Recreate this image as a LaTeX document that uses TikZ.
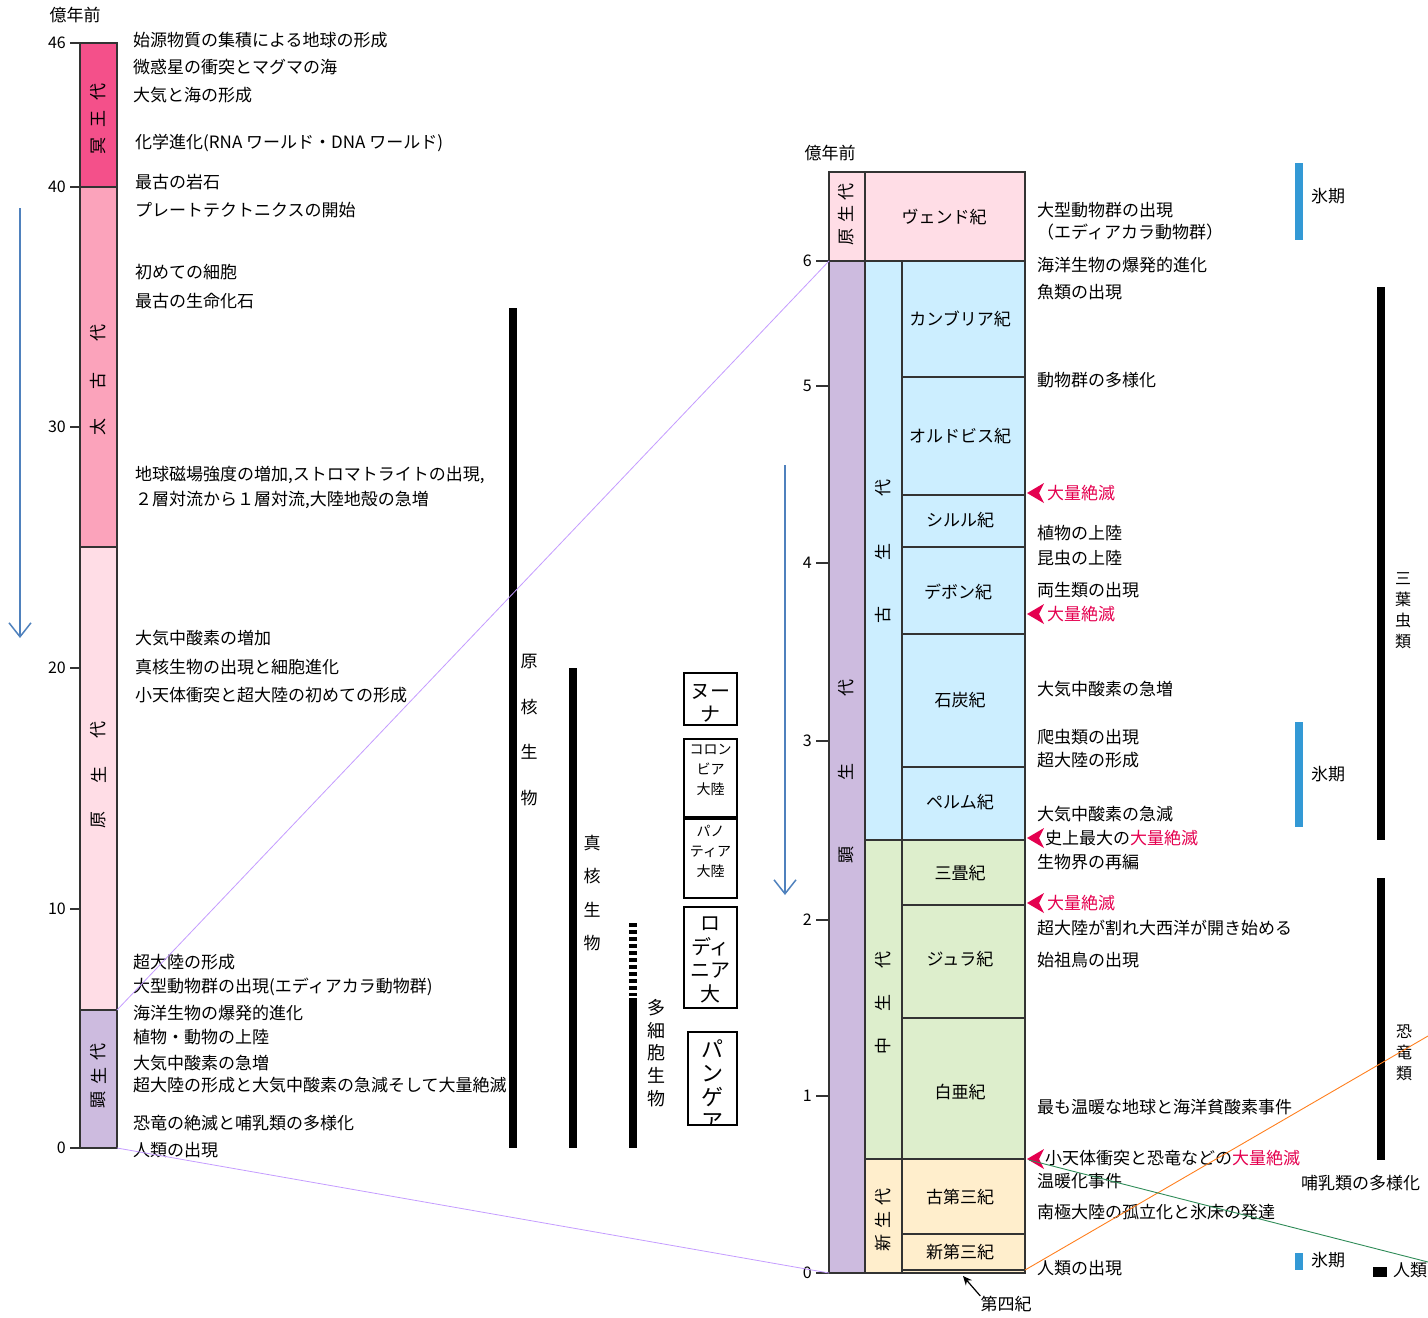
\documentclass[tikz,border=0pt]{standalone}
\usepackage{fontspec}
\setmainfont{Noto Sans CJK JP}
\usetikzlibrary{arrows.meta}
\definecolor{framec}{HTML}{333333}
\definecolor{hadc}{HTML}{F4508A}
\definecolor{arcc}{HTML}{FBA3BB}
\definecolor{proc}{HTML}{FFDDE6}
\definecolor{phac}{HTML}{CDBBDF}
\definecolor{palc}{HTML}{CCEEFF}
\definecolor{mesc}{HTML}{DDEECC}
\definecolor{cenc}{HTML}{FFEECC}
\definecolor{purp}{HTML}{C49CFF}
\definecolor{orgc}{HTML}{FF7F1E}
\definecolor{grnc}{HTML}{2E8B57}
\definecolor{icec}{HTML}{3399D5}
\definecolor{extc}{HTML}{E4004F}
\definecolor{arrc}{HTML}{4F81BD}
\begin{document}
\begin{tikzpicture}[x=1pt,y=-1pt,
  every node/.style={inner sep=0pt},
  ev/.style={anchor=west,font=\fontsize{17}{20}\selectfont},
  num/.style={anchor=east,font=\fontsize{16}{18}\selectfont},
  rch/.style={rotate=90,font=\fontsize{17}{20}\selectfont},
  pername/.style={font=\fontsize{17}{20}\selectfont},
  frame/.style={draw=framec,line width=1.2pt},
  lifebar/.style={line width=8pt,draw=black},
  iceb/.style={line width=8pt,draw=icec},
  link/.style={draw=purp,line width=0.8pt},
  downarrow/.style={draw=arrc,line width=1.5pt,-{Straight Barb[length=14pt,width=22pt,line width=1.5pt]}},
  cbox/.style={draw=black,line width=1.3pt},
  extn/.style={text=extc}
]
\useasboundingbox (0,0) rectangle (1428,1318);

% ================= LEFT COLUMN =================
\node[font=\fontsize{17}{20}\selectfont] (hdrL) at (75,15) {億年前};
\fill[hadc] (80,43) rectangle (117,187);
\fill[arcc] (80,187) rectangle (117,547);
\fill[proc] (80,547) rectangle (117,1010);
\fill[phac] (80,1010) rectangle (117,1148);
\draw[frame] (80,43) rectangle (117,1148);
\draw[frame] (80,187) -- (117,187);
\draw[frame] (80,547) -- (117,547);
\draw[frame] (80,1010) -- (117,1010);
\foreach \yy/\lab in {43/46,187/40,427/30,668/20,909/10,1148/0}{
  \draw[frame] (70,\yy) -- (80,\yy);
  \node[num] (tl\lab) at (66,\yy) {\lab};
}
% eon labels
\node[rch] (e1a) at (98.5,146) {冥};
\node[rch] (e1b) at (98.5,119) {王};
\node[rch] (e1c) at (98.5,92) {代};
\node[rch] (e2a) at (98.5,427) {太};
\node[rch] (e2b) at (98.5,381) {古};
\node[rch] (e2c) at (98.5,333) {代};
\node[rch] (e3a) at (98.5,820) {原};
\node[rch] (e3b) at (98.5,775) {生};
\node[rch] (e3c) at (98.5,730) {代};
\node[rch] (e4a) at (98.5,1100) {顕};
\node[rch] (e4b) at (98.5,1076) {生};
\node[rch] (e4c) at (98.5,1052) {代};

% left events
\node[ev] (l1) at (133,40) {始源物質の集積による地球の形成};
\node[ev] (l2) at (133,67) {微惑星の衝突とマグマの海};
\node[ev] (l3) at (133,95) {大気と海の形成};
\node[ev] (l4) at (135,143) {化学進化(RNA ワールド・DNA ワールド)};
\node[ev] (l5) at (135,182) {最古の岩石};
\node[ev] (l6) at (135,210) {プレートテクトニクスの開始};
\node[ev] (l7) at (135,272) {初めての細胞};
\node[ev] (l8) at (135,301) {最古の生命化石};
\node[ev] (l9) at (135,475) {地球磁場強度の増加,ストロマトライトの出現,};
\node[ev] (l10) at (135,500) {２層対流から１層対流,大陸地殻の急増};
\node[ev] (l11) at (135,638) {大気中酸素の増加};
\node[ev] (l12) at (135,667) {真核生物の出現と細胞進化};
\node[ev] (l13) at (135,695) {小天体衝突と超大陸の初めての形成};
\node[ev] (l14) at (133,962) {超大陸の形成};
\node[ev] (l15) at (133,987) {大型動物群の出現(エディアカラ動物群)};
\node[ev] (l16) at (133,1013) {海洋生物の爆発的進化};
\node[ev] (l17) at (133,1037) {植物・動物の上陸};
\node[ev] (l18) at (133,1063) {大気中酸素の急増};
\node[ev] (l19) at (133,1085) {超大陸の形成と大気中酸素の急減そして大量絶滅};
\node[ev] (l20) at (133,1123) {恐竜の絶滅と哺乳類の多様化};
\node[ev] (l21) at (133,1150) {人類の出現};

% blue arrows
\coordinate (ba1s) at (20,208);
\coordinate (ba1e) at (20,638);
\draw[downarrow] (ba1s) -- (ba1e);
\coordinate (ba2s) at (785,465);
\coordinate (ba2e) at (785,895);
\draw[downarrow] (ba2s) -- (ba2e);

% life bars
\draw[lifebar] (512.5,308) -- (512.5,1148);
\node[font=\fontsize{17}{20}\selectfont,align=center,text width=20pt,execute at begin node={\baselineskip=45.5pt}] (prok) at (529,730) {原\\核\\生\\物};
\draw[lifebar] (572.5,668) -- (572.5,1148);
\node[font=\fontsize{17}{20}\selectfont,align=center,text width=20pt,execute at begin node={\baselineskip=33.5pt}] (euk) at (592,893) {真\\核\\生\\物};
\draw[lifebar,dash pattern=on 4pt off 3pt] (632.5,923) -- (632.5,996);
\draw[lifebar] (632.5,998) -- (632.5,1148);
\node[font=\fontsize{18}{20}\selectfont,align=center,text width=20pt,execute at begin node={\baselineskip=22.7pt}] (multi) at (656,1053) {多\\細\\胞\\生\\物};

% continent boxes
\draw[cbox] (684,673) rectangle (737,725);
\node[font=\fontsize{20}{22}\selectfont,align=center,text width=50pt,execute at begin node={\baselineskip=23pt}] (nuna) at (710.5,703) {ヌー\\ナ};
\draw[cbox] (684,739) rectangle (737,817);
\node[font=\fontsize{14}{16}\selectfont,align=center,text width=50pt,execute at begin node={\baselineskip=20pt}] (colu) at (710.5,770) {コロン\\ビア\\大陸};
\draw[cbox] (684,819) rectangle (737,898);
\node[font=\fontsize{14}{16}\selectfont,align=center,text width=50pt,execute at begin node={\baselineskip=20pt}] (pano) at (710.5,851) {パノ\\ティア\\大陸};
\draw[cbox] (684,907) rectangle (737,1008);
\node[font=\fontsize{20}{22}\selectfont,align=center,text width=50pt,execute at begin node={\baselineskip=23.5pt}] (rodi) at (710.5,960) {ロ\\ディ\\ニア\\大};
\begin{scope}
\clip (688,1032) rectangle (737,1125);
\node[font=\fontsize{22}{24}\selectfont,align=center,text width=45pt,execute at begin node={\baselineskip=24pt}] (pang) at (712.5,1085) {パ\\ン\\ゲ\\ア};
\end{scope}
\draw[cbox] (688,1032) rectangle (737,1125);

% ================= RIGHT COLUMN =================
\node[font=\fontsize{17}{20}\selectfont] (hdrR) at (830,153) {億年前};
\fill[proc] (829,172) rectangle (1025,261);
\fill[phac] (829,261) rectangle (865,1273);
\fill[palc] (865,261) rectangle (1025,840);
\fill[mesc] (865,840) rectangle (1025,1159);
\fill[cenc] (865,1159) rectangle (1025,1273);
\draw[frame] (829,172) rectangle (1025,1273);
\draw[frame] (865,172) -- (865,1273);
\draw[frame] (902,261) -- (902,1273);
\draw[frame] (829,261) -- (1025,261);
\foreach \yy in {840,1159}{ \draw[frame] (865,\yy) -- (1025,\yy); }
\foreach \yy in {377,495,547,634,767,905,1018,1234,1270}{ \draw[frame] (902,\yy) -- (1025,\yy); }
\foreach \yy/\lab in {261/6,386/5,563/4,741/3,920/2,1096/1,1273/0}{
  \draw[frame] (816,\yy) -- (829,\yy);
  \node[num] (tr\lab) at (812,\yy) {\lab};
}
\draw[frame] (816,1273) -- (1025,1273);

% eon / era labels (rotated)
\node[rch] (r1a) at (846,237) {原};
\node[rch] (r1b) at (846,214) {生};
\node[rch] (r1c) at (846,192) {代};
\node[rch] (r2a) at (846,855) {顕};
\node[rch] (r2b) at (846,772) {生};
\node[rch] (r2c) at (846,688) {代};
\node[rch] (r3a) at (883,615) {古};
\node[rch] (r3b) at (883,552) {生};
\node[rch] (r3c) at (883,488) {代};
\node[rch] (r4a) at (883,1046) {中};
\node[rch] (r4b) at (883,1003) {生};
\node[rch] (r4c) at (883,960) {代};
\node[rch] (r5a) at (883,1243) {新};
\node[rch] (r5b) at (883,1220) {生};
\node[rch] (r5c) at (883,1197) {代};

% period labels
\node[pername] (p0) at (944,217) {ヴェンド紀};
\node[pername] (p1) at (960,319) {カンブリア紀};
\node[pername] (p2) at (960,436) {オルドビス紀};
\node[pername] (p3) at (960,520) {シルル紀};
\node[pername] (p4) at (958,592) {デボン紀};
\node[pername] (p5) at (960,700) {石炭紀};
\node[pername] (p6) at (960,802) {ペルム紀};
\node[pername] (p7) at (960,873) {三畳紀};
\node[pername] (p8) at (960,959) {ジュラ紀};
\node[pername] (p9) at (960,1092) {白亜紀};
\node[pername] (p10) at (960,1197) {古第三紀};
\node[pername] (p11) at (960,1252) {新第三紀};
\node[pername] (q4) at (1006,1304) {第四紀};
\coordinate (q4tip) at (963,1276);
\draw[line width=1.2pt,-{Stealth[length=9pt,width=8pt]}] (q4.north west) -- (q4tip);

% right events
\node[ev] (r01) at (1037,210) {大型動物群の出現};
\node[ev] (r02) at (1037,232) {（エディアカラ動物群）};
\node[ev] (r03) at (1037,265) {海洋生物の爆発的進化};
\node[ev] (r04) at (1037,292) {魚類の出現};
\node[ev] (r05) at (1037,380) {動物群の多様化};
\node[ev,extn] (r06) at (1047,493) {大量絶滅};
\node[ev] (r07) at (1037,533) {植物の上陸};
\node[ev] (r08) at (1037,558) {昆虫の上陸};
\node[ev] (r09) at (1037,590) {両生類の出現};
\node[ev,extn] (r10) at (1047,614) {大量絶滅};
\node[ev] (r11) at (1037,689) {大気中酸素の急増};
\node[ev] (r12) at (1037,737) {爬虫類の出現};
\node[ev] (r13) at (1037,760) {超大陸の形成};
\node[ev] (r14) at (1037,814) {大気中酸素の急減};
\node[ev] (r15) at (1045,838) {史上最大の\textcolor{extc}{大量絶滅}};
\node[ev] (r16) at (1037,862) {生物界の再編};
\node[ev,extn] (r17) at (1047,903) {大量絶滅};
\node[ev] (r18) at (1037,928) {超大陸が割れ大西洋が開き始める};
\node[ev] (r19) at (1037,960) {始祖鳥の出現};
\node[ev] (r20) at (1037,1107) {最も温暖な地球と海洋貧酸素事件};
\node[ev] (r21) at (1045,1158) {小天体衝突と恐竜などの\textcolor{extc}{大量絶滅}};
\node[ev] (r22) at (1037,1181) {温暖化事件};
\node[ev] (r23) at (1037,1212) {南極大陸の孤立化と氷床の発達};
\node[ev] (r24) at (1037,1268) {人類の出現};

% extinction markers
\foreach \yy in {493,614,838,903,1159}{
  \fill[extc] (1027,\yy) -- (1044,\yy-10) -- (1039,\yy) -- (1044,\yy+10) -- cycle;
}

% far right
\draw[iceb] (1299,163) -- (1299,240);
\node[ev] (ice1) at (1311,196) {氷期};
\draw[iceb] (1299,722) -- (1299,827);
\node[ev] (ice2) at (1311,774) {氷期};
\draw[lifebar] (1381,287) -- (1381,840);
\node[font=\fontsize{16}{18}\selectfont,align=center,text width=18pt,execute at begin node={\baselineskip=21pt}] (trilo) at (1403,611) {三\\葉\\虫\\類};
\draw[lifebar] (1381,878) -- (1381,1160);
\node[font=\fontsize{16}{18}\selectfont,align=center,text width=18pt,execute at begin node={\baselineskip=21pt}] (dino) at (1404,1053) {恐\\竜\\類};
\node[ev] (mamm) at (1301,1183) {哺乳類の多様化};
% legend
\draw[iceb] (1299,1253) -- (1299,1270);
\node[ev] (lgice) at (1311,1260) {氷期};
\fill[black] (1373,1267) rectangle (1387,1277);
\node[ev] (lghum) at (1393,1270) {人類};

% connecting lines
\coordinate (lkA) at (117,1010);
\coordinate (lkB) at (829,261);
\coordinate (lkC) at (117,1148);
\coordinate (lkD) at (829,1273);
\draw[link] (lkA) -- (lkB);
\draw[link] (lkC) -- (lkD);
\coordinate (orA) at (1025,1270);
\coordinate (orB) at (1428,1036);
\draw[draw=orgc,line width=0.9pt] (orA) -- (orB);
\coordinate (grA) at (1029,1160);
\coordinate (grB) at (1428,1262);
\draw[draw=grnc,line width=0.9pt] (grA) -- (grB);
\end{tikzpicture}
\end{document}
